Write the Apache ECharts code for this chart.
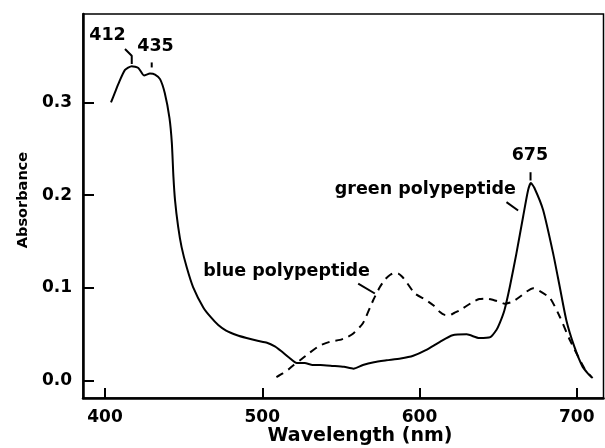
<!DOCTYPE html>
<html>
<head>
<meta charset="utf-8">
<script src="https://cdn.jsdelivr.net/npm/echarts@6/dist/echarts.min.js"></script>
<style>html,body{margin:0;padding:0;background:#fff}#c{width:605px;height:448px}</style>
</head>
<body>
<div id="c"></div>
<script>
// Green polypeptide (solid)
var greenWl = [403.8,406.4,408.5,412.7,417,421.2,424.8,428.6,431.8,435,438,441,442.5,443.5,444.5,446.5,448.7,452,456,462.5,467,472,477,484,490,497,503,508,512,517,522,527,532,537,545,552,558,564,571,579,588,596,604,613,621,630,638,645,649,651,654,657.4,661.6,665.9,669,670.8,673,678.6,685,689.2,693.4,698.4,703.7,707,710.1];
var greenAbs = [0.300,0.311,0.320,0.335,0.339,0.337,0.329,0.331,0.330,0.325,0.310,0.283,0.256,0.220,0.195,0.166,0.144,0.122,0.101,0.079,0.069,0.060,0.054,0.049,0.046,0.043,0.041,0.037,0.032,0.025,0.019,0.019,0.017,0.017,0.016,0.015,0.013,0.017,0.020,0.022,0.024,0.027,0.033,0.042,0.049,0.050,0.046,0.047,0.055,0.062,0.076,0.101,0.137,0.177,0.205,0.213,0.208,0.184,0.137,0.101,0.065,0.037,0.015,0.008,0.003];
// Blue polypeptide (dashed)
var blueWl = [509,513,516.5,520,524,530,536.7,543,549.4,554,557.9,564,570.6,574.8,578,581.2,584,586.5,589,591.8,597,604.1,609,613,616,619.3,622,625.7,634,638,642.6,647,651,654.2,659,663.8,668,672.3,676,683.1,689.2,695.6,702,705,708.3,709.4];
var blueAbs = [0.004,0.008,0.012,0.017,0.022,0.030,0.038,0.042,0.044,0.047,0.051,0.062,0.087,0.101,0.109,0.114,0.116,0.1155,0.112,0.106,0.094,0.087,0.081,0.074,0.071,0.0707,0.073,0.076,0.085,0.088,0.0886,0.087,0.085,0.083,0.085,0.0905,0.096,0.0996,0.097,0.0888,0.069,0.0439,0.0223,0.013,0.006,0.004];
// Tick values
var xTicks = [400,500,600,700];
var yTicks = [0,0.1,0.2,0.3];
// Annotation texts and anchors (data coordinates)
var annTexts = ['412','435','675','green polypeptide','blue polypeptide'];
var annWl = [401.6,432.1,670.2,603.7,515.4];
var annAbs = [0.3717,0.3604,0.2427,0.2061,0.1174];
// Leader lines (data coordinates)
var leaders = [
  [[412.7,0.3574],[417,0.3502],[417,0.3413]],
  [[429.7,0.343],[429.7,0.3376]],
  [[670.6,0.2247],[670.6,0.2158]],
  [[655.3,0.1925],[662.7,0.1835]],
  [[561,0.1047],[571.6,0.094]]
];

function zip(a,b){return a.map(function(v,i){return [v,b[i]];});}
var FONT = '"DejaVu Sans", sans-serif';

var series = [
  {type:'line', data:zip(greenWl,greenAbs), showSymbol:false, smooth:0.2,
   lineStyle:{color:'#000',width:2}, z:3},
  {type:'line', data:zip(blueWl,blueAbs), showSymbol:false, smooth:0.2,
   lineStyle:{color:'#000',width:2,type:[8,6]}, z:3},
  {type:'scatter', symbol:'circle', symbolSize:2, itemStyle:{color:'#000',opacity:0}, silent:true,
   data:annTexts.map(function(t,i){return {value:[annWl[i],annAbs[i]],name:t};}),
   label:{show:true, position:'inside', formatter:function(p){return p.name;},
     color:'#000', opacity:1, textBorderWidth:0, fontFamily:FONT, fontWeight:'bold', fontSize:17.5}, z:5}
];
leaders.forEach(function(l){
  series.push({type:'line', data:l, showSymbol:false, silent:true,
    lineStyle:{color:'#000',width:2}, z:4});
});

var chart = echarts.init(document.getElementById('c'));
chart.setOption({
  animation:false,
  backgroundColor:'#fff',
  grid:{left:83,right:1.5,top:14,bottom:50,show:true,borderColor:'#000',borderWidth:1.5,backgroundColor:'transparent'},
  xAxis:{type:'value',min:386,max:717,
    axisLine:{show:true,onZero:false,lineStyle:{color:'#000',width:2.5}},
    axisTick:{show:true,inside:true,length:10,customValues:xTicks,lineStyle:{color:'#000',width:2}},
    axisLabel:{show:true,customValues:xTicks,margin:11,color:'#000',fontFamily:FONT,fontWeight:'bold',fontSize:17},
    splitLine:{show:false}},
  yAxis:{type:'value',min:-0.0186,max:0.3952,
    axisLine:{show:true,onZero:false,lineStyle:{color:'#000',width:2.5}},
    axisTick:{show:true,inside:true,length:11,customValues:yTicks,lineStyle:{color:'#000',width:2}},
    axisLabel:{show:true,customValues:yTicks,margin:11,color:'#000',fontFamily:FONT,fontWeight:'bold',fontSize:17,
      formatter:function(v){return v.toFixed(1);}},
    splitLine:{show:false}},
  graphic:[
    {type:'text',x:360,y:436,style:{text:'Wavelength (nm)',fill:'#000',font:'bold 19px "DejaVu Sans", sans-serif',textAlign:'center',textVerticalAlign:'middle'}},
    {type:'text',x:23,y:200,rotation:Math.PI/2,style:{text:'Absorbance',fill:'#000',font:'bold 14.5px "DejaVu Sans", sans-serif',textAlign:'center',textVerticalAlign:'middle'}}
  ],
  series:series
});
</script>
</body>
</html>
